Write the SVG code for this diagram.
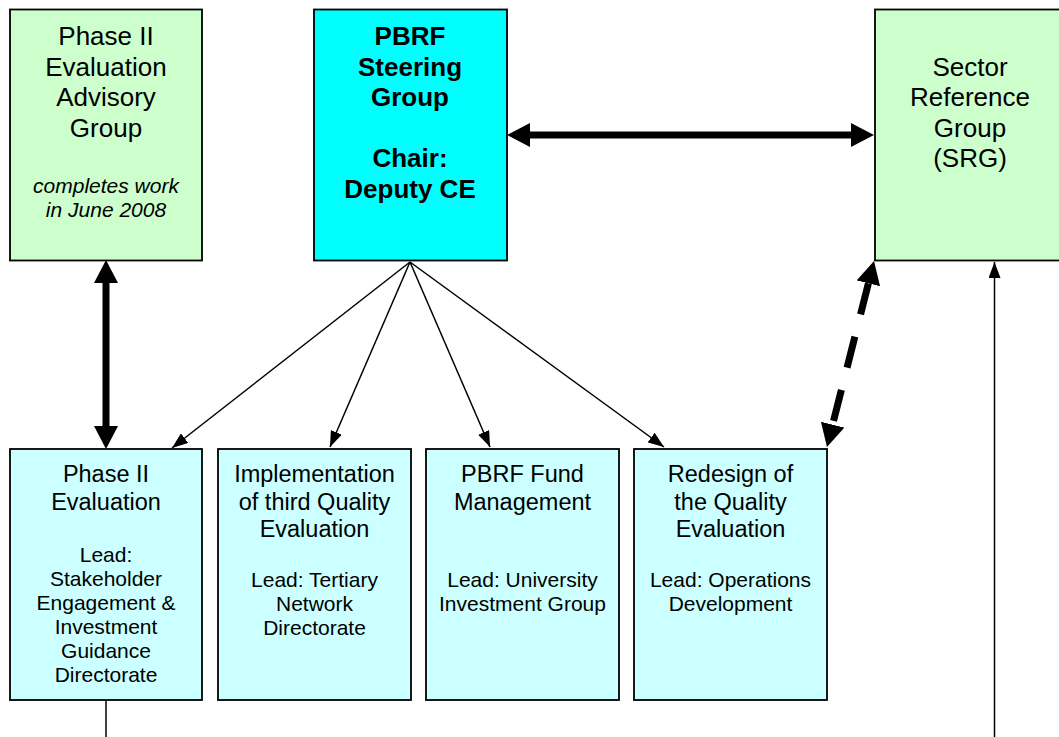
<svg xmlns="http://www.w3.org/2000/svg" width="1059" height="737" viewBox="0 0 1059 737">
<style>
.box{stroke:#000;stroke-width:1.8}
.green{fill:#CCFFCC}
.cyan{fill:#00FFFF}
.lite{fill:#CCFFFF}
text{font-family:"Liberation Sans",Arial,sans-serif;fill:#000;text-anchor:middle}
.t26{font-size:26px}
.b26{font-size:26px;font-weight:bold}
.it{font-size:21px;font-style:italic}
.t23{font-size:23.5px}
.t21{font-size:21px}
.thin{stroke:#000;stroke-width:1.5;fill:none}
.thick{stroke:#000;stroke-width:7;fill:none}
</style>
<defs>
<marker id="big" markerUnits="userSpaceOnUse" viewBox="0 -12 23 24" refX="0" refY="0" markerWidth="23" markerHeight="24" orient="auto-start-reverse">
<path d="M0,-12 L23,0 L0,12 z" fill="#000"/>
</marker>
<marker id="small" markerUnits="userSpaceOnUse" viewBox="0 -6 16 12" refX="16" refY="0" markerWidth="16" markerHeight="12" orient="auto">
<path d="M0,-6 L16,0 L0,6 z" fill="#000"/>
</marker>
</defs>
<rect width="1059" height="737" fill="#fff"/>
<g id="connectors">
<line class="thick" x1="530" y1="135" x2="851" y2="135" marker-start="url(#big)" marker-end="url(#big)"/>
<line class="thick" x1="106" y1="283" x2="106" y2="426" marker-start="url(#big)" marker-end="url(#big)"/>
<line class="thick" x1="868.4" y1="283.3" x2="832.6" y2="424.7" stroke-dasharray="32 23" marker-start="url(#big)" marker-end="url(#big)"/>
<line class="thin" x1="410" y1="262" x2="172" y2="448" marker-end="url(#small)"/>
<line class="thin" x1="410" y1="262" x2="330" y2="447" marker-end="url(#small)"/>
<line class="thin" x1="410" y1="262" x2="490" y2="447" marker-end="url(#small)"/>
<line class="thin" x1="410" y1="262" x2="664" y2="447" marker-end="url(#small)"/>
<line class="thin" x1="106" y1="700" x2="106" y2="737"/>
<line class="thin" x1="994.5" y1="737" x2="994.5" y2="262" marker-end="url(#small)"/>
</g>
<g id="advisory">
<rect class="box green" x="10" y="9.5" width="192" height="251"/>
<text class="t26" x="106" y="45">Phase II</text>
<text class="t26" x="106" y="76">Evaluation</text>
<text class="t26" x="106" y="106">Advisory</text>
<text class="t26" x="106" y="137">Group</text>
<text class="it" x="106" y="193">completes work</text>
<text class="it" x="106" y="217">in June 2008</text>
</g>
<g id="steering">
<rect class="box cyan" x="314" y="9.5" width="193" height="251"/>
<text class="b26" x="410" y="45">PBRF</text>
<text class="b26" x="410" y="76">Steering</text>
<text class="b26" x="410" y="106">Group</text>
<text class="b26" x="410" y="167">Chair:</text>
<text class="b26" x="410" y="198">Deputy CE</text>
</g>
<g id="srg">
<rect class="box green" x="875" y="9.5" width="192" height="251"/>
<text class="t26" x="970" y="76">Sector</text>
<text class="t26" x="970" y="106">Reference</text>
<text class="t26" x="970" y="137">Group</text>
<text class="t26" x="970" y="167">(SRG)</text>
</g>
<g id="phase2">
<rect class="box lite" x="10" y="449" width="192" height="251"/>
<text class="t23" x="106" y="482">Phase II</text>
<text class="t23" x="106" y="510">Evaluation</text>
<text class="t21" x="106" y="562">Lead:</text>
<text class="t21" x="106" y="586">Stakeholder</text>
<text class="t21" x="106" y="610">Engagement &amp;</text>
<text class="t21" x="106" y="634">Investment</text>
<text class="t21" x="106" y="658">Guidance</text>
<text class="t21" x="106" y="682">Directorate</text>
</g>
<g id="implementation">
<rect class="box lite" x="218" y="449" width="193" height="251"/>
<text class="t23" x="314.5" y="482">Implementation</text>
<text class="t23" x="314.5" y="510">of third Quality</text>
<text class="t23" x="314.5" y="537">Evaluation</text>
<text class="t21" x="314.5" y="587">Lead: Tertiary</text>
<text class="t21" x="314.5" y="611">Network</text>
<text class="t21" x="314.5" y="635">Directorate</text>
</g>
<g id="fund">
<rect class="box lite" x="426" y="449" width="193" height="251"/>
<text class="t23" x="522.5" y="482">PBRF Fund</text>
<text class="t23" x="522.5" y="510">Management</text>
<text class="t21" x="522.5" y="587">Lead: University</text>
<text class="t21" x="522.5" y="611">Investment Group</text>
</g>
<g id="redesign">
<rect class="box lite" x="634" y="449" width="193" height="251"/>
<text class="t23" x="730.5" y="482">Redesign of</text>
<text class="t23" x="730.5" y="510">the Quality</text>
<text class="t23" x="730.5" y="537">Evaluation</text>
<text class="t21" x="730.5" y="587">Lead: Operations</text>
<text class="t21" x="730.5" y="611">Development</text>
</g>
</svg>
